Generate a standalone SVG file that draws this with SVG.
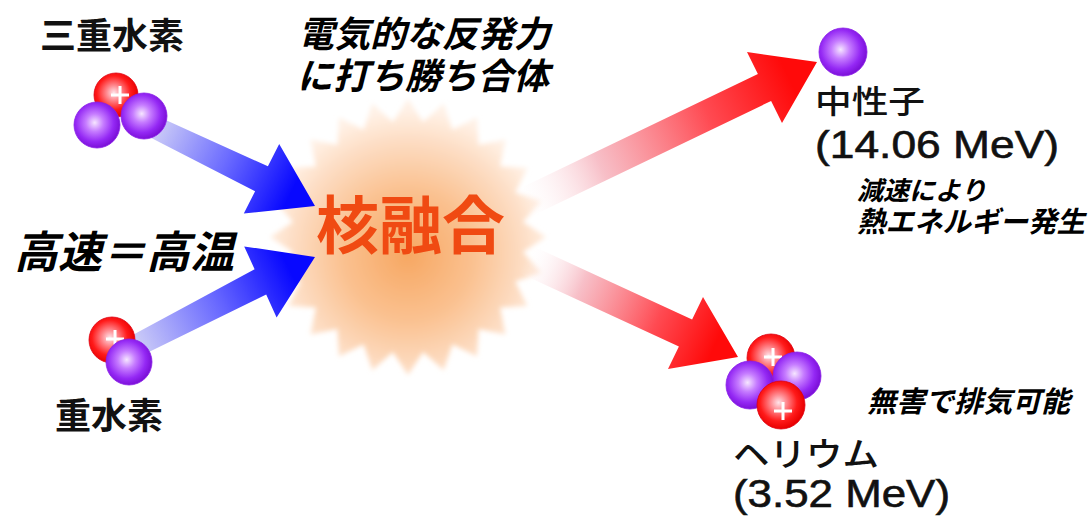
<svg xmlns="http://www.w3.org/2000/svg" xmlns:xlink="http://www.w3.org/1999/xlink" width="1089" height="518" viewBox="0 0 1089 518">
  <style>
    .label { font-family: "Noto Sans CJK JP", "Noto Sans", sans-serif; fill: #111; }
    .bold { font-weight: 700; }
    .medium { font-weight: 500; }
    .note { font-family: "Noto Sans CJK JP", "Noto Sans", sans-serif; font-weight: 700; font-style: italic; fill: #000; }
    .energy { font-family: "Liberation Sans", Arial, sans-serif; fill: #111; stroke: #111; stroke-width: 0.6; }
    .plus { stroke: #fff; stroke-width: 3; fill: none; }
    .proton { fill: url(#protonGrad); stroke: #e00010; stroke-width: 0.8; }
    .neutron { fill: url(#neutronGrad); stroke: #8a20e8; stroke-width: 0.8; }
  </style>
  <defs>
    <radialGradient id="protonGrad" cx="0.45" cy="0.45" r="0.55">
      <stop offset="0" stop-color="#ffe4ea"/>
      <stop offset="0.3" stop-color="#ff8a90"/>
      <stop offset="0.7" stop-color="#ff1a1a"/>
      <stop offset="1" stop-color="#e80000"/>
    </radialGradient>
    <radialGradient id="neutronGrad" cx="0.45" cy="0.45" r="0.55">
      <stop offset="0" stop-color="#f6e6ff"/>
      <stop offset="0.35" stop-color="#c67cff"/>
      <stop offset="0.75" stop-color="#9428f4"/>
      <stop offset="1" stop-color="#7c10d8"/>
    </radialGradient>
    <radialGradient id="burstGrad" gradientUnits="userSpaceOnUse" cx="408" cy="255" r="145">
      <stop offset="0" stop-color="#f7a762"/>
      <stop offset="0.45" stop-color="#fac190"/>
      <stop offset="0.78" stop-color="#fddcc2"/>
      <stop offset="1" stop-color="#fff1e6"/>
    </radialGradient>
    <filter id="soft" x="-10%" y="-10%" width="120%" height="120%">
      <feGaussianBlur stdDeviation="2.5"/>
    </filter>
    <linearGradient id="blueTop" gradientUnits="userSpaceOnUse" x1="148" y1="124" x2="290" y2="195">
      <stop offset="0" stop-color="#d8d8f6"/>
      <stop offset="0.55" stop-color="#6a6aff"/>
      <stop offset="1" stop-color="#0808ff"/>
    </linearGradient>
    <linearGradient id="blueBottom" gradientUnits="userSpaceOnUse" x1="128" y1="350" x2="290" y2="270">
      <stop offset="0" stop-color="#d8d8f6"/>
      <stop offset="0.55" stop-color="#6a6aff"/>
      <stop offset="1" stop-color="#0808ff"/>
    </linearGradient>
    <linearGradient id="redTop" gradientUnits="userSpaceOnUse" x1="520" y1="205" x2="790" y2="80">
      <stop offset="0" stop-color="#ffffff" stop-opacity="0"/>
      <stop offset="0.3" stop-color="#f6b4be" stop-opacity="0.85"/>
      <stop offset="0.7" stop-color="#ff4a52"/>
      <stop offset="1" stop-color="#ff0a0a"/>
    </linearGradient>
    <linearGradient id="redBottom" gradientUnits="userSpaceOnUse" x1="525" y1="259" x2="715" y2="345">
      <stop offset="0" stop-color="#ffffff" stop-opacity="0"/>
      <stop offset="0.3" stop-color="#f6b4be" stop-opacity="0.85"/>
      <stop offset="0.7" stop-color="#ff4a52"/>
      <stop offset="1" stop-color="#ff0a0a"/>
    </linearGradient>
  </defs>

  <rect width="1089" height="518" fill="#fff"/>

  <!-- fusion starburst -->
  <g id="fusion">
    <polygon filter="url(#soft)" fill="url(#burstGrad)" points="546,237 523,252.1 541.3,272.7 515.2,281.4 527.5,306 500,307.6 505.6,334.6 478.6,329 477,356.5 452.4,344.2 443.7,370.3 423.1,352 408,375 392.9,352 372.3,370.3 363.6,344.2 339,356.5 337.4,329 310.4,334.6 316,307.6 288.5,306 300.8,281.4 274.7,272.7 293,252.1 270,237 293,221.9 274.7,201.3 300.8,192.6 288.5,168 316,166.4 310.4,139.4 337.4,145 339,117.5 363.6,129.8 372.3,103.7 392.9,122 408,99 423.1,122 443.7,103.7 452.4,129.8 477,117.5 478.6,145 505.6,139.4 500,166.4 527.5,168 515.2,192.6 541.3,201.3 523,221.9"/>
  </g>

  <!-- arrows -->
  <g id="connectors">
    <polygon fill="url(#blueTop)" points="153,114.2 267.9,166.3 279.2,144.1 315,206 243.8,213.5 255.1,191.3 143,133.8"/>
    <polygon fill="url(#blueBottom)" points="123.4,340 254.6,269.2 244.2,246.4 315,257 276.6,317.4 266.2,294.6 132.6,360"/>
    <polygon fill="url(#redTop)" points="513.4,191.5 757.9,74 747,52 817,62 782,123 771.1,101 526.6,218.5"/>
    <polygon fill="url(#redBottom)" points="531.6,245.5 692.1,319.5 703,297 738,357 668,369 678.9,346.5 518.4,272.5"/>
  </g>

  <g id="fusion-label">
    <text x="316" y="248" font-family="'Noto Sans CJK JP', sans-serif" font-weight="700" font-size="63" fill="#f04a12">核融合</text>
  </g>

  <!-- tritium: one proton, two neutrons -->
  <g id="tritium">
    <circle class="proton" cx="116" cy="95" r="22"/>
    <path class="plus" d="M111,95 H129 M120,86 V104"/>
    <circle class="neutron" cx="97" cy="125" r="23"/>
    <circle class="neutron" cx="144" cy="116" r="23"/>
    <text class="label bold" x="40" y="49" font-size="36">三重水素</text>
  </g>

  <!-- deuterium: one proton, one neutron -->
  <g id="deuterium">
    <circle class="proton" cx="112" cy="340" r="23"/>
    <path class="plus" d="M106,339 H124 M115,330 V348"/>
    <circle class="neutron" cx="129" cy="362" r="23"/>
    <text class="label bold" x="55" y="429" font-size="36">重水素</text>
  </g>

  <!-- neutron -->
  <g id="neutron">
    <circle class="neutron" cx="843" cy="52" r="24"/>
    <text class="label medium" x="815" y="113" font-size="32" textLength="110" lengthAdjust="spacingAndGlyphs">中性子</text>
    <text class="energy" x="815" y="158" font-size="38" textLength="244" lengthAdjust="spacingAndGlyphs">(14.06 MeV)</text>
  </g>

  <!-- helium: two protons, two neutrons -->
  <g id="helium">
    <circle class="proton" cx="771" cy="358" r="24"/>
    <path class="plus" d="M764,357 H782 M773,348 V366"/>
    <circle class="neutron" cx="797" cy="376" r="24"/>
    <circle class="neutron" cx="750" cy="385" r="24"/>
    <circle class="proton" cx="781" cy="405" r="24"/>
    <path class="plus" d="M774,411 H792 M783,402 V420"/>
    <text class="label medium" x="733" y="466" font-size="33" textLength="146" lengthAdjust="spacingAndGlyphs">ヘリウム</text>
    <text class="energy" x="733" y="507" font-size="38" textLength="217" lengthAdjust="spacingAndGlyphs">(3.52 MeV)</text>
  </g>

  <!-- annotations -->
  <g id="notes">
    <text class="note" font-size="36">
      <tspan x="298" y="47">電気的な反発力</tspan>
      <tspan x="297" y="89">に打ち勝ち合体</tspan>
    </text>
    <text class="note" x="14" y="268" font-size="44">高速＝高温</text>
    <text class="note">
      <tspan x="857" y="200" font-size="26">減速により</tspan>
      <tspan x="857" y="232" font-size="28.5">熱エネルギー発生</tspan>
    </text>
    <text class="note" x="867" y="412" font-size="29">無害で排気可能</text>
  </g>
</svg>
